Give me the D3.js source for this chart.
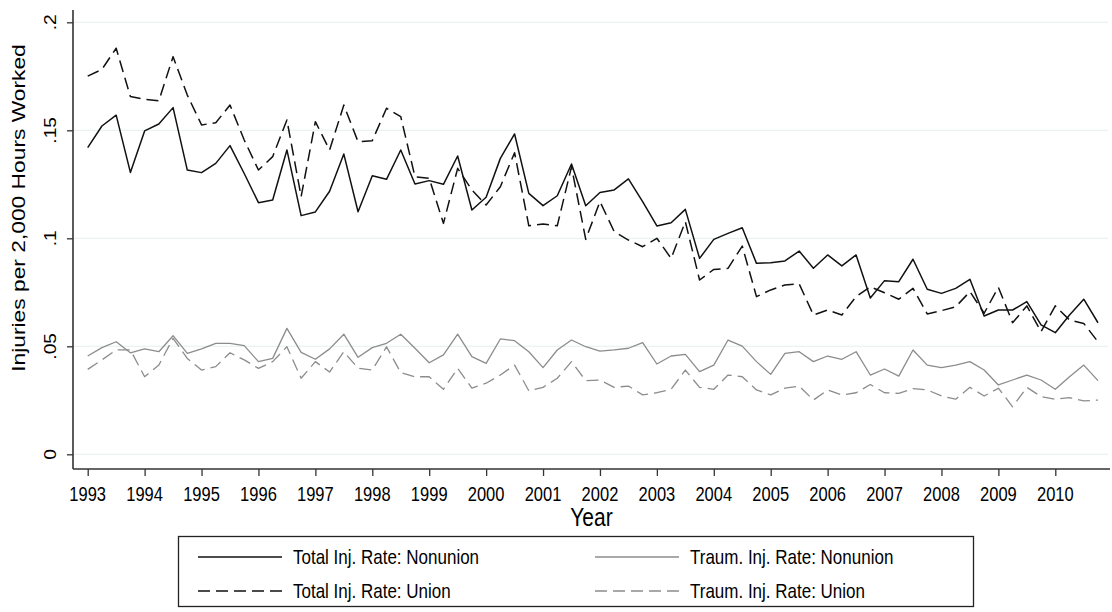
<!DOCTYPE html>
<html>
<head>
<meta charset="utf-8">
<script src="https://cdn.jsdelivr.net/npm/d3@7"></script>
<style>
  body { margin: 0; background: #fff; }
  text { font-family: "Liberation Sans", Arial, sans-serif; fill: #000; }
</style>
</head>
<body>
<div id="chart"></div>
<script>
// Tick labels
const years = [1993, 1994, 1995, 1996, 1997, 1998, 1999, 2000, 2001, 2002,
               2003, 2004, 2005, 2006, 2007, 2008, 2009, 2010];
const yTicks = [0, 0.05, 0.1, 0.15, 0.2];
const yTickLabels = ["0", ".05", ".1", ".15", ".2"];

// Quarterly series, 1993Q1 .. 2010Q4
const totalNonunion = [
  .142, .152, .157, .1305, .1497, .1529, .1605, .1316, .1304, .1347, .1429, .130,
  .1165, .1177, .1409, .1105, .1122, .1218, .139, .1123, .129, .1273, .1409, .1251,
  .1267, .125, .1381, .1131, .119, .137, .1483, .1208, .1151, .1197, .1344, .1151,
  .1212, .1224, .1275, .117, .1057, .1072, .1134, .0907, .0995, .1023, .1049, .0884,
  .0887, .0895, .0941, .0861, .0923, .0872, .0923, .0724, .0804, .0799, .0903, .0764,
  .0745, .0768, .081, .064, .0668, .0668, .0707, .0599, .0563, .0645, .0718, .0609
];
const totalUnion = [
  .1751, .1782, .188, .1656, .1643, .1637, .1841, .1663, .1525, .1535, .1617, .1455,
  .1316, .1378, .1548, .1193, .154, .1409, .1617, .1447, .1452, .1602, .1563, .1285,
  .1278, .1069, .1324, .1224, .1154, .1239, .1396, .1058, .1066, .1058, .1331, .0995,
  .117, .1031, .0992, .0961, .1, .0907, .1077, .0807, .0856, .0861, .0964, .073,
  .0761, .0784, .0789, .0645, .0668, .0645, .073, .0775, .0748, .0718, .0768, .065,
  .0665, .0683, .0753, .0653, .0773, .0609, .0687, .0568, .0687, .0622, .0606, .0521
];
const traumNonunion = [
  .0455, .0494, .0521, .047, .0488, .0475, .0549, .0467, .0488, .0514, .0514, .0503,
  .0429, .0444, .0583, .0472, .044, .0488, .0556, .0449, .0494, .0514, .0556, .0491,
  .0424, .046, .0556, .0452, .0421, .0534, .0526, .0475, .0401, .0483, .0529, .0498,
  .0478, .0483, .0491, .0517, .0418, .0455, .0463, .0383, .0413, .0529, .0501, .0429,
  .037, .0467, .0475, .0429, .0455, .044, .0475, .0367, .0395, .0362, .0483, .0413,
  .0401, .0413, .0429, .039, .0321, .0344, .0367, .0344, .0301, .0359, .0413, .0341
];
const traumUnion = [
  .0393, .0437, .0483, .0483, .0359, .0413, .0537, .0444, .039, .0406, .047, .0437,
  .0398, .0429, .0498, .0352, .0429, .0381, .0475, .0398, .039, .0498, .0378, .0359,
  .0359, .0301, .0398, .0306, .0329, .0367, .0413, .0294, .031, .0352, .0429, .0341,
  .0344, .031, .0316, .0275, .0285, .0301, .039, .031, .0301, .0367, .0359, .0298,
  .0275, .0306, .0316, .0251, .0298, .0275, .0285, .0323, .0285, .0282, .0304, .0298,
  .027, .0255, .031, .027, .0306, .022, .031, .0267, .0255, .0262, .0247, .0251
];
const seriesNames = [
  "Total Inj. Rate: Nonunion", "Total Inj. Rate: Union",
  "Traum. Inj. Rate: Nonunion", "Traum. Inj. Rate: Union"
];

const width = 1112, height = 612;
const plot = { left: 73, right: 1110, top: 10, bottom: 469 };
const stretch = 1.2; // text in the picture is drawn a bit taller than wide

const svg = d3.select("#chart").append("svg")
  .attr("width", width)
  .attr("height", height)
  .style("display", "block");

// x: time in years (quarter steps), y: rate
const x = d3.scaleLinear().domain([1993, 2010]).range([87.7, 1055.3]);
const y = d3.scaleLinear().domain([0, 0.2]).range([454.3, 22.3]);

const quarterTime = i => 1993 + i / 4;

// gridlines
svg.append("g")
  .selectAll("line")
  .data(yTicks)
  .join("line")
  .attr("x1", plot.left + 1)
  .attr("x2", plot.right - 2)
  .attr("y1", d => y(d))
  .attr("y2", d => y(d))
  .attr("stroke", "#eaf2f3")
  .attr("stroke-width", 1.2);

// y axis
const yAxis = svg.append("g")
  .attr("transform", `translate(${plot.left},0)`)
  .call(d3.axisLeft(y).tickValues(yTicks).tickSize(6).tickFormat(""));
yAxis.select(".domain").attr("d", `M0,${plot.top}V${plot.bottom}`).attr("stroke", "#333").attr("stroke-width", 1.6);
yAxis.selectAll(".tick line").attr("stroke", "#333").attr("stroke-width", 1.3);

svg.append("g")
  .selectAll("text")
  .data(yTicks)
  .join("text")
  .attr("transform", d => `translate(56,${y(d)}) scale(1,${stretch}) rotate(-90)`)
  .attr("text-anchor", "middle")
  .attr("font-size", 16)
  .text((d, i) => yTickLabels[i]);

// x axis
const xAxis = svg.append("g")
  .attr("transform", `translate(0,${plot.bottom})`)
  .call(d3.axisBottom(x).tickValues(years).tickSize(7).tickFormat(""));
xAxis.select(".domain").attr("d", `M${plot.left},0H${plot.right}`).attr("stroke", "#333").attr("stroke-width", 1.6);
xAxis.selectAll(".tick line").attr("stroke", "#333").attr("stroke-width", 1.3);

svg.append("g")
  .selectAll("text")
  .data(years)
  .join("text")
  .attr("transform", d => `translate(${x(d)},501) scale(1,${stretch})`)
  .attr("text-anchor", "middle")
  .attr("font-size", 16.5)
  .text(d => d);

// axis titles
svg.append("text")
  .attr("transform", `translate(${(plot.left + plot.right) / 2},526) scale(1,1.2)`)
  .attr("text-anchor", "middle")
  .attr("font-size", 21)
  .text("Year");

svg.append("text")
  .attr("transform", `translate(25,208) scale(1,${stretch}) rotate(-90)`)
  .attr("text-anchor", "middle")
  .attr("font-size", 19)
  .text("Injuries per 2,000 Hours Worked");

// series lines
const series = [
  { name: seriesNames[0], values: totalNonunion, color: "#111", width: 1.5, dash: null },
  { name: seriesNames[1], values: totalUnion, color: "#111", width: 1.5, dash: "12,6" },
  { name: seriesNames[2], values: traumNonunion, color: "#8c8c8c", width: 1.3, dash: null },
  { name: seriesNames[3], values: traumUnion, color: "#8c8c8c", width: 1.3, dash: "12,6" }
];

const line = d3.line()
  .x((d, i) => x(quarterTime(i)))
  .y(d => y(d));

svg.append("g")
  .attr("fill", "none")
  .selectAll("path")
  .data(series.slice().reverse())
  .join("path")
  .attr("stroke", d => d.color)
  .attr("stroke-width", d => d.width)
  .attr("stroke-dasharray", d => d.dash)
  .attr("stroke-linejoin", "round")
  .attr("d", d => line(d.values));

// legend
const legend = svg.append("g");
legend.append("rect")
  .attr("x", 178.5).attr("y", 536.5)
  .attr("width", 795).attr("height", 70)
  .attr("fill", "#fff")
  .attr("stroke", "#222")
  .attr("stroke-width", 1.3);

const legendPos = [
  { x: 198, y: 557 }, { x: 198, y: 591 },
  { x: 595, y: 557 }, { x: 595, y: 591 }
];
const items = legend.selectAll("g.item")
  .data(series)
  .join("g")
  .attr("class", "item")
  .attr("transform", (d, i) => `translate(${legendPos[i].x},${legendPos[i].y})`);
items.append("line")
  .attr("x1", 0).attr("x2", 84)
  .attr("stroke", d => d.color)
  .attr("stroke-width", d => d.width)
  .attr("stroke-dasharray", d => d.dash);
items.append("text")
  .attr("x", 95)
  .attr("transform", `scale(1,${stretch})`)
  .attr("dy", "0.35em")
  .attr("font-size", 17)
  .text(d => d.name);
</script>
</body>
</html>
